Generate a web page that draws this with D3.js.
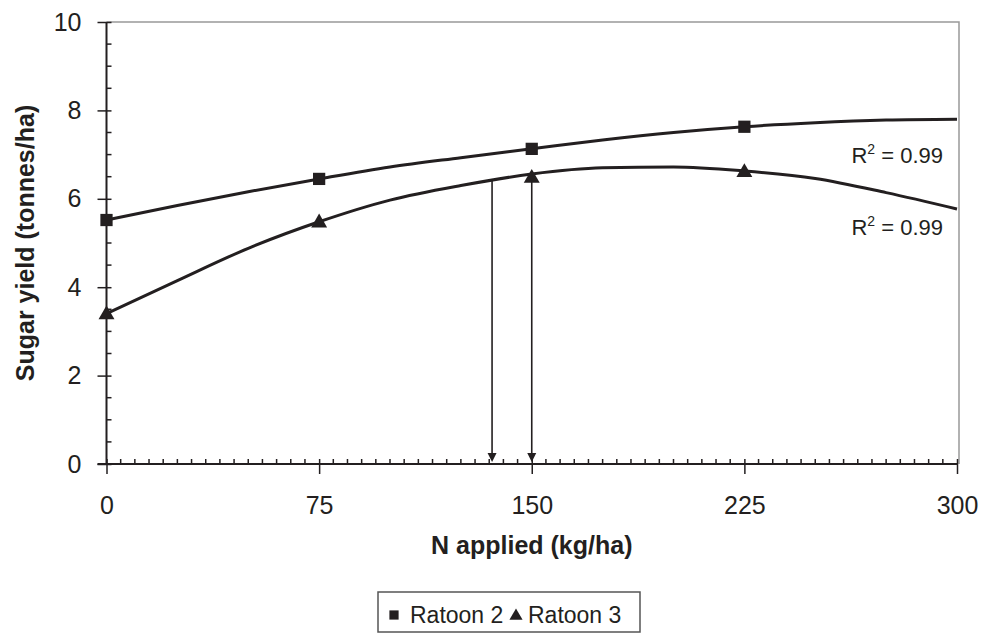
<!DOCTYPE html>
<html>
<head>
<meta charset="utf-8">
<script src="https://cdn.jsdelivr.net/npm/d3@7"></script>
<style>
  html, body { margin: 0; padding: 0; background: #fff; }
  svg { display: block; font-family: Arial, "Liberation Sans", Helvetica, sans-serif; }
</style>
</head>
<body>
<svg id="chart" width="987" height="635"></svg>
<script>
// ---- data ----
const xTicks = [0, 75, 150, 225, 300];
const yTicks = [0, 2, 4, 6, 8, 10];
const nRates = [0, 75, 150, 225];
const ratoon2 = [5.52, 6.45, 7.13, 7.63];
const ratoon3 = [3.40, 5.48, 6.49, 6.62];
const fitX    = [0, 25, 50, 75, 100, 125, 150, 175, 200, 225, 250, 275, 300];
const fit2    = [5.52, 5.85, 6.16, 6.45, 6.72, 6.93, 7.13, 7.33, 7.50, 7.63, 7.72, 7.78, 7.80];
const fit3    = [3.40, 4.15, 4.88, 5.48, 5.97, 6.30, 6.56, 6.70, 6.72, 6.63, 6.46, 6.14, 5.77];
const arrowX  = [136, 150];
const arrowY  = [6.45, 6.49];
const r2Text  = ["0.99", "0.99"];
const seriesNames = ["Ratoon 2", "Ratoon 3"];

// ---- layout ----
const ink = "#231f20";
const FONT = "Arial, 'Liberation Sans', sans-serif";
const svg = d3.select("#chart");
const x = d3.scaleLinear().domain([0, 300]).range([106.5, 957]);
const y = d3.scaleLinear().domain([0, 10]).range([464, 22]);

// plot frame (top & right, grey)
svg.append("path")
  .attr("d", `M${x(0)},${y(10)}H${x(300) + 2}V${y(0)}`)
  .attr("fill", "none").attr("stroke", "#999").attr("stroke-width", 1.5);

// minor ticks
const yMinor = d3.range(0, 10.01, 0.5).filter(v => v % 2 !== 0);
svg.append("g").selectAll("line").data(yMinor).join("line")
  .attr("x1", x(0)).attr("x2", x(0) + 5)
  .attr("y1", d => y(d)).attr("y2", d => y(d))
  .attr("stroke", ink).attr("stroke-width", 1.5);
const xMinor = d3.range(0, 301, 5).filter(v => v % 75 !== 0);
svg.append("g").selectAll("line").data(xMinor).join("line")
  .attr("x1", d => x(d)).attr("x2", d => x(d))
  .attr("y1", y(0)).attr("y2", y(0) - 5)
  .attr("stroke", ink).attr("stroke-width", 1.5);

// axes via d3
const yAxis = svg.append("g").attr("transform", `translate(${x(0)},0)`)
  .call(d3.axisLeft(y).tickValues(yTicks).tickSizeInner(9).tickSizeOuter(0).tickPadding(16));
const xAxis = svg.append("g").attr("transform", `translate(0,${y(0)})`)
  .call(d3.axisBottom(x).tickValues(xTicks).tickSizeInner(10).tickSizeOuter(0).tickPadding(22));
[yAxis, xAxis].forEach(g => {
  g.attr("font-size", 25).attr("font-family", FONT);
  g.select(".domain").attr("stroke", ink).attr("stroke-width", 2);
  g.selectAll(".tick line").attr("stroke", ink).attr("stroke-width", 1.5);
  g.selectAll(".tick text").attr("fill", ink);
});
yAxis.select(".domain").attr("d", `M0,${y(0)}V${y(10)}`);
xAxis.select(".domain").attr("d", `M${x(0) - 9},0H${x(300)}`);
yAxis.selectAll(".tick line").attr("x2", 5).attr("x1", -9);
xAxis.selectAll(".tick line").attr("y1", -5).attr("y2", 10);
xAxis.selectAll(".tick text").attr("dy", "0.71em");

// axis titles
svg.append("text")
  .attr("transform", `translate(34,${(y(0) + y(10)) / 2}) rotate(-90)`)
  .attr("text-anchor", "middle").attr("font-weight", "bold").attr("font-size", 25)
  .attr("fill", ink).text("Sugar yield (tonnes/ha)");
svg.append("text")
  .attr("x", (x(0) + x(300)) / 2).attr("y", 554)
  .attr("text-anchor", "middle").attr("font-weight", "bold").attr("font-size", 25)
  .attr("fill", ink).text("N applied (kg/ha)");

// fitted curves
const line = d3.line().x(d => x(d[0])).y(d => y(d[1])).curve(d3.curveMonotoneX);
[fit2, fit3].forEach(fit => {
  svg.append("path").datum(fitX.map((v, i) => [v, fit[i]]))
    .attr("d", line).attr("fill", "none").attr("stroke", ink).attr("stroke-width", 3);
});

// arrows
const arrows = svg.append("g");
arrowX.forEach((xv, i) => {
  const xp = x(xv), yTop = y(arrowY[i]), tip = y(0) - 2;
  arrows.append("line").attr("x1", xp).attr("x2", xp).attr("y1", yTop).attr("y2", tip - 6)
    .attr("stroke", ink).attr("stroke-width", 1.6);
  arrows.append("path").attr("d", `M${xp - 4.5},${tip - 9}L${xp + 4.5},${tip - 9}L${xp},${tip}Z`)
    .attr("fill", ink);
});

// markers
const sq = d3.symbol().type(d3.symbolSquare).size(150);
const tri = d3.symbol().type(d3.symbolTriangle).size(110);
svg.append("g").selectAll("path").data(nRates.map((v, i) => [v, ratoon2[i]])).join("path")
  .attr("d", sq).attr("transform", d => `translate(${x(d[0])},${y(d[1])})`).attr("fill", ink);
svg.append("g").selectAll("path").data(nRates.map((v, i) => [v, ratoon3[i]])).join("path")
  .attr("d", tri).attr("transform", d => `translate(${x(d[0])},${y(d[1]) + 1})`).attr("fill", ink);

// R² labels
const r2Pos = [6.82, 5.18];
r2Text.forEach((t, i) => {
  const tx = svg.append("text").attr("x", x(300) - 14).attr("y", y(r2Pos[i]))
    .attr("text-anchor", "end").attr("font-size", 22).attr("fill", ink);
  tx.append("tspan").text("R");
  tx.append("tspan").attr("font-size", 14).attr("dy", -9).text("2");
  tx.append("tspan").attr("dy", 9).text(" = " + t);
});

// legend
const lg = svg.append("g");
lg.append("rect").attr("x", 378).attr("y", 592).attr("width", 262).attr("height", 40)
  .attr("fill", "#fff").attr("stroke", "#555").attr("stroke-width", 1.5);
lg.append("path").attr("d", d3.symbol().type(d3.symbolSquare).size(85))
  .attr("transform", "translate(394,615)").attr("fill", ink);
lg.append("text").attr("x", 410).attr("y", 623).attr("font-size", 23).attr("fill", ink).text(seriesNames[0]);
lg.append("path").attr("d", d3.symbol().type(d3.symbolTriangle).size(75))
  .attr("transform", "translate(516,616)").attr("fill", ink);
lg.append("text").attr("x", 528).attr("y", 623).attr("font-size", 23).attr("fill", ink).text(seriesNames[1]);
</script>
</body>
</html>
